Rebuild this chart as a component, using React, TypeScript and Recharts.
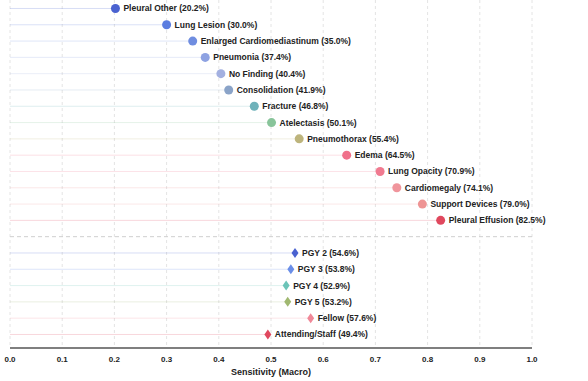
import React from 'react';
import { ScatterChart, Scatter, XAxis, YAxis, CartesianGrid, ReferenceLine } from 'recharts';

const findings = ['Pleural Other', 'Lung Lesion', 'Enlarged Cardiomediastinum', 'Pneumonia', 'No Finding', 'Consolidation', 'Fracture', 'Atelectasis', 'Pneumothorax', 'Edema', 'Lung Opacity', 'Cardiomegaly', 'Support Devices', 'Pleural Effusion'];
const findingValues = [0.202, 0.300, 0.350, 0.374, 0.404, 0.419, 0.468, 0.501, 0.554, 0.645, 0.709, 0.741, 0.790, 0.825];
const findingColors = ['#4a62d0', '#5b7de0', '#6f8de0', '#8ea2e2', '#a3b0e0', '#8aa3c8', '#6fb2ba', '#88c49a', '#bdb47c', '#f0708a', '#f07a90', '#f0959c', '#ee9494', '#e0485e'];

const roles = ['PGY 2', 'PGY 3', 'PGY 4', 'PGY 5', 'Fellow', 'Attending/Staff'];
const roleValues = [0.546, 0.538, 0.529, 0.532, 0.576, 0.494];
const roleColors = ['#4a62d0', '#6a8ee8', '#6cc4b8', '#a0b870', '#f08898', '#e0485e'];

const xTicks = [0, 0.1, 0.2, 0.3, 0.4, 0.5, 0.6, 0.7, 0.8, 0.9, 1.0];
const separatorRow = 14;

const findingData = findings.map((name, i) => ({ name, value: findingValues[i], row: i, color: findingColors[i] }));
const roleData = roles.map((name, i) => ({ name, value: roleValues[i], row: separatorRow + 1 + i, color: roleColors[i] }));

const FONT = '"Liberation Sans", Arial, Helvetica, sans-serif';

const labelText = (p: any, dx: number) => (
  <text x={p.cx + dx} y={p.cy} dy="0.35em" fontSize={8.5} fontWeight="bold" fontFamily={FONT} fill="#222">
    {`${p.payload.name} (${(p.payload.value * 100).toFixed(1)}%)`}
  </text>
);

const DotShape = (p: any) => (
  <g>
    <circle cx={p.cx} cy={p.cy} r={4.5} fill={p.payload.color} />
    {labelText(p, 8)}
  </g>
);

const DiamondShape = (p: any) => (
  <g>
    <polygon
      points={`${p.cx},${p.cy - 5} ${p.cx + 3.5},${p.cy} ${p.cx},${p.cy + 5} ${p.cx - 3.5},${p.cy}`}
      fill={p.payload.color}
    />
    {labelText(p, 7)}
  </g>
);

export default function App() {
  const all = [...findingData, ...roleData];
  return (
    <div style={{ position: 'absolute', left: 0, top: 0, width: 588, height: 381, background: '#fff' }}>
      <ScatterChart width={588} height={381} margin={{ top: 0, right: 56, left: 10, bottom: 0 }}>
        <CartesianGrid vertical horizontal={false} stroke="#e4e4e4" strokeDasharray="3 3" />
        <XAxis
          type="number"
          dataKey="value"
          domain={[0, 1]}
          ticks={xTicks}
          tickFormatter={(v: number) => v.toFixed(1)}
          tickLine={false}
          axisLine={{ stroke: '#555', strokeWidth: 1.5 }}
          height={33}
          tick={{ fontSize: 8, fontWeight: 'bold', fill: '#222', fontFamily: FONT }}
          label={{ value: 'Sensitivity (Macro)', position: 'insideBottom', offset: 6, style: { fontSize: 9, fontWeight: 'bold', fill: '#222', fontFamily: FONT } }}
        />
        <YAxis
          type="number"
          dataKey="row"
          domain={[-0.52, 20.83]}
          reversed
          allowDataOverflow
          width={0}
          tick={false}
          tickLine={false}
          axisLine={{ stroke: '#555', strokeWidth: 1.5 }}
        />
        {all.map((d) => (
          <ReferenceLine
            key={'stem-' + d.name}
            segment={[{ x: 0, y: d.row }, { x: d.value, y: d.row }]}
            stroke={d.color}
            strokeOpacity={0.22}
            strokeWidth={1}
          />
        ))}
        <ReferenceLine y={separatorRow} stroke="#cfcfcf" strokeDasharray="4 3" strokeWidth={1} />
        <Scatter data={findingData} dataKey="value" shape={DotShape} isAnimationActive={false} />
        <Scatter data={roleData} dataKey="value" shape={DiamondShape} isAnimationActive={false} />
      </ScatterChart>
    </div>
  );
}
